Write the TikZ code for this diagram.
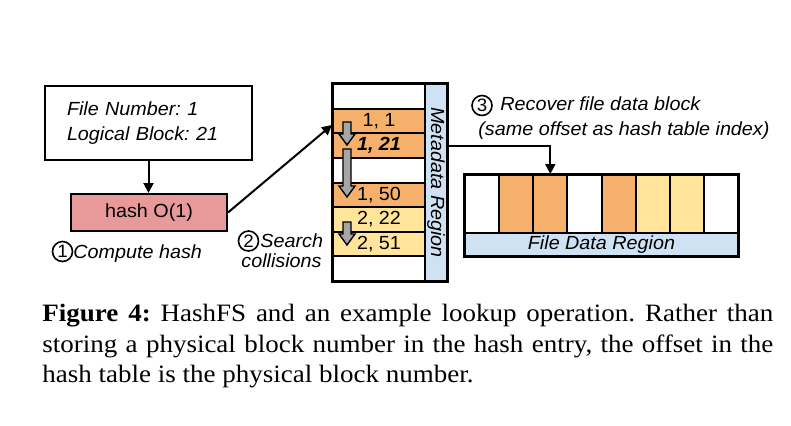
\documentclass[tikz,border=0pt]{standalone}
\usepackage{fontspec}
\newfontfamily\figfont[FakeStretch=1.04]{Liberation Sans}
\newfontfamily\capfont[FakeStretch=1.08]{Liberation Serif}
\usepackage{xcolor}
\usepackage{tikz}
\usetikzlibrary{arrows.meta,calc,positioning}

\definecolor{hashred}{HTML}{E8999A}
\definecolor{orng}{HTML}{F5B06B}
\definecolor{yllw}{HTML}{FFE499}
\definecolor{lblue}{HTML}{CFE2F3}
\definecolor{grayarr}{HTML}{A6A6A6}

\tikzset{
  box/.style={draw, line width=1pt, inner sep=0pt},
  rowbox/.style={box, minimum width=46pt, minimum height=12.3125pt, font=\figfont\fontsize{9.5}{11}\selectfont},
  cellbox/.style={box, minimum width=17.0625pt, minimum height=29pt},
  lbl/.style={font=\figfont\fontsize{9.5}{11}\selectfont\itshape, inner sep=0pt},
  num/.style={draw, circle, line width=0.8pt, inner sep=0pt, minimum size=10pt, font=\figfont\fontsize{9}{9}\selectfont},
  arr/.style={line width=1pt, -{Triangle[length=5pt,width=5pt]}},
  grayblock/.style={draw, line width=0.7pt, fill=grayarr}
}

% x, top, tip (px)
\newcommand{\blockarrow}[3]{%
  \draw[grayblock] (#1-4,#2) -- (#1+4,#2) -- (#1+4,#3-11) -- (#1+8,#3-11) -- (#1,#3)
    -- (#1-8,#3-11) -- (#1-4,#3-11) -- cycle;}

\begin{document}
\frenchspacing
\begin{tikzpicture}[x=0.5pt,y=-0.5pt]

  \path[use as bounding box, fill=white] (0,0) rectangle (791,425);

  \node[box, minimum width=103.5pt, minimum height=37pt, text width=81.5pt, inner xsep=11pt,
    align=left, font=\figfont\fontsize{9.5}{12.5}\selectfont\itshape] (inp) at (148.5,123)
    {File Number: 1\\Logical Block: 21};
  \node[box, fill=hashred, minimum width=78pt, minimum height=18.5pt,
    font=\figfont\fontsize{9.5}{11}\selectfont] (hash) at (149,212.5) {hash O(1)};

  \node[num] (n1) at (62.5,251.5) {1};
  \node[lbl, anchor=base west] (t1) at (73,258) {Compute hash};
  \node[num] (n2) at (248.5,241) {2};
  \node[lbl, anchor=base west] (t2) at (260,247) {Search};
  \node[lbl, anchor=base west] (t2b) at (241,267) {collisions};

  % hash table
  \foreach \i/\c/\t in {0/white/{},1/orng/{1, 1},2/orng/{\bfseries\itshape 1, 21},3/white/{},
                        4/orng/{1, 50},5/yllw/{2, 22},6/yllw/{2, 51},7/white/{}}
    \node[rowbox, fill=\c] (r\i) at (379,96.3125+24.625*\i) {\t};
  \node[box, fill=lblue, minimum width=11pt, minimum height=98.5pt] (meta) at (436,182.5) {};
  \node[lbl, rotate=-90] at (meta) {Metadata Region};
  \draw[line width=1.2pt] (r0.north west) rectangle (meta.south east);

  \blockarrow{347}{122}{145}
  \blockarrow{347}{149}{197}
  \blockarrow{347}{222}{245}

  % file data
  \foreach \i/\c in {0/white,1/orng,2/orng,3/white,4/orng,5/yllw,6/yllw,7/white}
    \node[cellbox, fill=\c] (c\i) at (482.0625+34.125*\i,204) {};
  \node[box, fill=lblue, minimum width=136.5pt, minimum height=11.5pt,
    font=\figfont\fontsize{9.5}{11}\selectfont\itshape] (fdr) at (601.5,244.5) {File Data Region};
  \draw[line width=1.2pt] (c0.north west) rectangle (fdr.south east);

  \node[num] (n3) at (482,105.5) {3};
  \node[lbl, anchor=base west] (t3) at (500,110) {Recover file data block};
  \node[lbl, anchor=base west] (t3b) at (478,135) {(same offset as hash table index)};

  \draw[arr] (inp.south) -- (inp.south |- hash.north);
  \draw[arr] (hash.east) -- ([yshift=-2pt]r1.west);
  \draw[arr] (meta.east |- r2) -| (c2.north);

  \node[anchor=north west, inner sep=0pt, text width=365.5pt, align=justify,
    font=\capfont\fontsize{12.5}{15.25}\selectfont] (cap) at (42,304)
    {\textbf{Figure 4:} HashFS and an example lookup operation. Rather than\linebreak
     storing a physical block number in the hash entry, the offset in the\linebreak
     hash table is the physical block number.};

\end{tikzpicture}
\end{document}
